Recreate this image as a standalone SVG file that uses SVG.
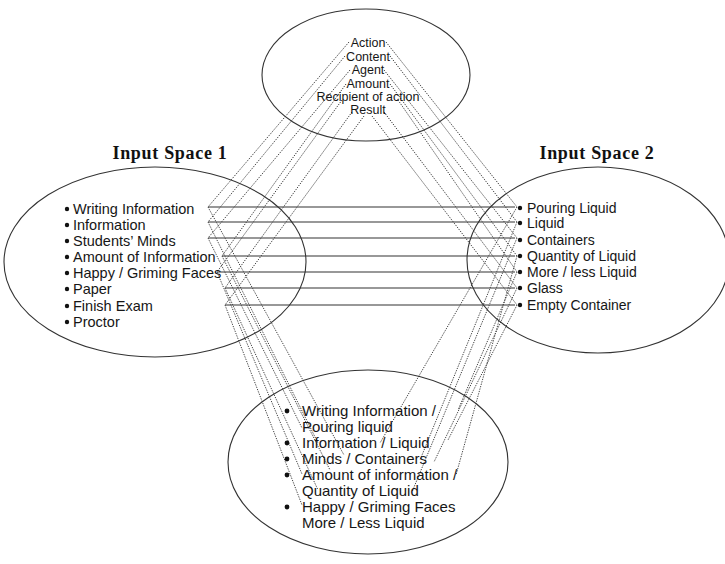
<svg xmlns="http://www.w3.org/2000/svg" width="725" height="564" viewBox="0 0 725 564">
<style>
.ell{fill:none;stroke:#333;stroke-width:1.1}
.t{font-family:"Liberation Sans",Arial,sans-serif;fill:#161616}
.top{font-size:12.5px;text-anchor:middle}
.lst{font-size:14.5px}
.rst{font-size:14px}
.bst{font-size:15px}
.ttl{font-family:"Liberation Serif","Times New Roman",serif;font-weight:bold;font-size:18px;letter-spacing:0.7px;fill:#111;text-anchor:middle}
.dot{fill:#111}
.h{stroke:#333;stroke-width:1.1;fill:none}
.d{stroke:#444;stroke-width:1;stroke-dasharray:1.3 1.2;fill:none}
</style>
<rect width="725" height="564" fill="#fff"/>

<g id="connectors">
  <!-- horizontal mappings -->
  <line class="h" x1="208" y1="207" x2="515" y2="207"/>
  <line class="h" x1="208" y1="222" x2="515" y2="222"/>
  <line class="h" x1="208" y1="238" x2="515" y2="238"/>
  <line class="h" x1="222" y1="256" x2="515" y2="256"/>
  <line class="h" x1="217" y1="272" x2="515" y2="272"/>
  <line class="h" x1="225" y1="288" x2="515" y2="288"/>
  <line class="h" x1="225" y1="305" x2="515" y2="305"/>
  <!-- generic space to input space 1 -->
  <line class="d" x1="349" y1="42" x2="208" y2="207"/>
  <line class="d" x1="345" y1="56" x2="208" y2="222"/>
  <line class="d" x1="350" y1="70" x2="208" y2="238"/>
  <line class="d" x1="346" y1="84" x2="222" y2="256"/>
  <line class="d" x1="342" y1="100" x2="217" y2="272"/>
  <line class="d" x1="352" y1="112" x2="225" y2="288"/>
  <line class="d" x1="364" y1="116" x2="225" y2="305"/>
  <!-- generic space to input space 2 -->
  <line class="d" x1="386" y1="42" x2="517" y2="207"/>
  <line class="d" x1="390" y1="56" x2="517" y2="222"/>
  <line class="d" x1="384" y1="70" x2="517" y2="238"/>
  <line class="d" x1="390" y1="84" x2="517" y2="256"/>
  <line class="d" x1="398" y1="100" x2="517" y2="272"/>
  <line class="d" x1="384" y1="112" x2="517" y2="288"/>
  <line class="d" x1="372" y1="116" x2="517" y2="305"/>
  <!-- input space 1 to blend -->
  <line class="d" x1="208" y1="207" x2="344" y2="455"/>
  <line class="d" x1="208" y1="222" x2="318" y2="443"/>
  <line class="d" x1="208" y1="238" x2="302" y2="428"/>
  <line class="d" x1="222" y1="256" x2="330" y2="470"/>
  <line class="d" x1="217" y1="272" x2="302" y2="474"/>
  <line class="d" x1="225" y1="288" x2="318" y2="490"/>
  <line class="d" x1="225" y1="305" x2="302" y2="505"/>
  <!-- input space 2 to blend -->
  <line class="d" x1="517" y1="207" x2="380" y2="443"/>
  <line class="d" x1="517" y1="222" x2="420" y2="460"/>
  <line class="d" x1="517" y1="238" x2="412" y2="492"/>
  <line class="d" x1="517" y1="256" x2="456" y2="475"/>
  <line class="d" x1="517" y1="272" x2="458" y2="410"/>
  <line class="d" x1="517" y1="288" x2="434" y2="462"/>
  <line class="d" x1="517" y1="305" x2="448" y2="440"/>
</g>

<g id="generic-space">
  <ellipse class="ell" cx="366" cy="75" rx="104" ry="66"/>
  <text class="t top" x="368" y="47">Action</text>
  <text class="t top" x="368" y="61">Content</text>
  <text class="t top" x="368" y="74">Agent</text>
  <text class="t top" x="368" y="88">Amount</text>
  <text class="t top" x="368" y="101">Recipient of action</text>
  <text class="t top" x="368" y="114">Result</text>
</g>

<g id="title-1"><text class="ttl" x="170" y="159">Input Space 1</text></g>
<g id="title-2"><text class="ttl" x="597" y="159">Input Space 2</text></g>

<g id="input-space-1">
  <ellipse class="ell" cx="155" cy="262" rx="151" ry="95"/>
  <circle class="dot" cx="67" cy="209" r="2.2"/><text class="t lst" x="73" y="214">Writing Information</text>
  <circle class="dot" cx="67" cy="225" r="2.2"/><text class="t lst" x="73" y="230">Information</text>
  <circle class="dot" cx="67" cy="241" r="2.2"/><text class="t lst" x="73" y="246">Students’ Minds</text>
  <circle class="dot" cx="67" cy="257" r="2.2"/><text class="t lst" x="73" y="262">Amount of Information</text>
  <circle class="dot" cx="67" cy="273" r="2.2"/><text class="t lst" x="73" y="278">Happy / Griming Faces</text>
  <circle class="dot" cx="67" cy="289" r="2.2"/><text class="t lst" x="73" y="294">Paper</text>
  <circle class="dot" cx="67" cy="306" r="2.2"/><text class="t lst" x="73" y="311">Finish Exam</text>
  <circle class="dot" cx="67" cy="322" r="2.2"/><text class="t lst" x="73" y="327">Proctor</text>
</g>

<g id="input-space-2">
  <ellipse class="ell" cx="598" cy="260" rx="131" ry="93"/>
  <circle class="dot" cx="520" cy="208" r="2.2"/><text class="t rst" x="527" y="213">Pouring Liquid</text>
  <circle class="dot" cx="520" cy="223" r="2.2"/><text class="t rst" x="527" y="228">Liquid</text>
  <circle class="dot" cx="520" cy="240" r="2.2"/><text class="t rst" x="527" y="245">Containers</text>
  <circle class="dot" cx="520" cy="256" r="2.2"/><text class="t rst" x="527" y="261">Quantity of Liquid</text>
  <circle class="dot" cx="520" cy="272" r="2.2"/><text class="t rst" x="527" y="277">More / less Liquid</text>
  <circle class="dot" cx="520" cy="288" r="2.2"/><text class="t rst" x="527" y="293">Glass</text>
  <circle class="dot" cx="520" cy="305" r="2.2"/><text class="t rst" x="527" y="310">Empty Container</text>
</g>

<g id="blended-space">
  <ellipse class="ell" cx="368" cy="462" rx="140" ry="92"/>
  <circle class="dot" cx="287" cy="411" r="2.4"/><text class="t bst" x="302" y="416">Writing Information /</text>
  <text class="t bst" x="302" y="432">Pouring liquid</text>
  <circle class="dot" cx="287" cy="443" r="2.4"/><text class="t bst" x="302" y="448">Information / Liquid</text>
  <circle class="dot" cx="287" cy="459" r="2.4"/><text class="t bst" x="302" y="464">Minds / Containers</text>
  <circle class="dot" cx="287" cy="475" r="2.4"/><text class="t bst" x="302" y="480">Amount of information /</text>
  <text class="t bst" x="302" y="496">Quantity of Liquid</text>
  <circle class="dot" cx="287" cy="507" r="2.4"/><text class="t bst" x="302" y="512">Happy / Griming Faces</text>
  <text class="t bst" x="302" y="528">More / Less Liquid</text>
</g>
</svg>
